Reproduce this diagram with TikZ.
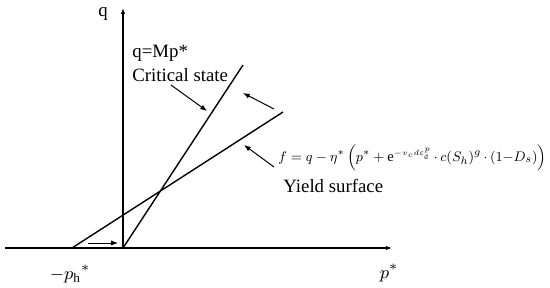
\documentclass[tikz,border=0pt]{standalone}
\usepackage{amsmath,amssymb}
\usepackage{graphicx}
\usepackage{fontspec}
\setmainfont{Liberation Serif}
\usetikzlibrary{positioning,arrows.meta,calc}
\begin{document}
\begin{tikzpicture}[x=0.5pt,y=-0.5pt,
  lab/.style={font=\fontsize{9.4}{11}\selectfont,inner sep=0pt},
  axis/.style={line width=0.65pt,-{Latex[length=3pt,width=2.2pt]}},
  ln/.style={line width=0.7pt},
  ptr/.style={line width=0.5pt,-{Latex[length=3.4pt,width=2.6pt]}}]
\useasboundingbox (0,0) rectangle (550,288);
% axes
\coordinate (O) at (123,248);
\coordinate (xs) at (5,248);
\coordinate (xe) at (392,248);
\coordinate (ye) at (123,8);
\draw[axis] (xs)--(xe);
\draw[axis] (O)--(ye);
\node[lab] (qlab) at (103,14) {q};
\node[lab] (plab) at (389,273) {$p^{*}$};
\node[lab] (phlab) at (70,274) {$-p_{\mathrm{h}}{}^{*}$};
% critical state and yield lines
\coordinate (ph) at (72,248);
\coordinate (cstop) at (243,65);
\coordinate (ystop) at (283,112);
\draw[ln] (O)--(cstop);
\draw[ln] (ph)--(ystop);
% labels
\node[lab,anchor=west] (mplab) at (132,53) {q=Mp*};
\node[lab,anchor=west] (cslab) at (132,75) {Critical state};
\node[lab,anchor=west] (flab) at (278,158) {\resizebox{134pt}{!}{$f=q-\eta^{*}\left(p^{*}+\mathrm{e}^{\scriptscriptstyle -v_{c}d\varepsilon_{\mathrm{d}}^{p}}\,{\cdot}\,c(S_{h})^{g}\,{\cdot}\,(1{-}D_{s})\right)$}};
\node[lab,anchor=west] (yslab) at (283,186) {Yield surface};
% pointers
\coordinate (c1) at (171,85);  \coordinate (c2) at (207,111);
\coordinate (u1) at (274,109); \coordinate (u2) at (243,93);
\coordinate (f1) at (274,167); \coordinate (f2) at (244,145);
\coordinate (h1) at (88,243);  \coordinate (h2) at (118,243);
\foreach \a/\b in {c1/c2,u1/u2,f1/f2,h1/h2}{\draw[ptr] (\a)--(\b);}
\end{tikzpicture}
\end{document}
